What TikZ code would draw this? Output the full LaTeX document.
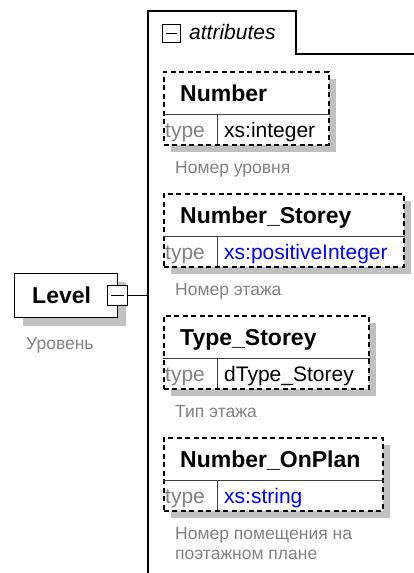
\documentclass[tikz,border=0pt]{standalone}
\usepackage{fontspec}
\setmainfont{Liberation Sans}
\definecolor{shadowgray}{RGB}{192,192,192}
\definecolor{txtgray}{RGB}{130,130,130}
\definecolor{typeblue}{RGB}{0,0,255}
\tikzset{
  solidline/.style={draw=black, line width=1.4pt},
  dashframe/.style={draw=black, line width=1.8pt, dash pattern=on 5pt off 3.5pt, fill=white, inner sep=0pt, anchor=north west},
  divline/.style={draw=black!75, line width=0.8pt},
  nametext/.style={font=\fontsize{23}{26}\selectfont\bfseries, inner sep=0pt, anchor=base west},
  typelabel/.style={font=\fontsize{21}{24}\selectfont, text=txtgray, inner sep=0pt, anchor=base west},
  typetext/.style={font=\fontsize{21}{24}\selectfont, inner sep=0pt, anchor=base west},
  commenttext/.style={font=\fontsize{17.5}{20}\selectfont, text=txtgray, inner sep=0pt, anchor=north west, align=left},
  shadowfill/.style={fill=shadowgray, draw=none},
}
% #1 id, #2 top y, #3 right x, #4 name, #5 type text, #6 type colour, #7 comment
\newcommand{\attrbox}[7]{%
  \fill[shadowfill] (171,#2+8) rectangle (#3+8,#2+81);
  \node[dashframe, minimum width=#3pt-163pt, minimum height=73pt] (#1) at (163,#2) {};
  \draw[divline] (#1.west |- 0,#2+43) coordinate (#1dl) -- (#1.east |- 0,#2+43) coordinate (#1dr);
  \draw[divline] (217,#2+43) coordinate (#1dt) -- (217,#2+73) coordinate (#1db);
  \node[nametext] (#1name) at (180,#2+30) {#4};
  \node[typelabel] (#1tl) at (165,#2+66) {type};
  \node[typetext, text=#6] (#1tv) at (224,#2+66) {#5};
  \node[commenttext] (#1c) at (175,#2+90.5) {#7};
}
\begin{document}
\begin{tikzpicture}[x=1pt, y=-1pt]
\useasboundingbox (0,0) rectangle (414,573);
% attributes group frame
\draw[solidline] (148,573) coordinate (gb) -- (148,11) coordinate (gtl) -- (296,11) coordinate (gtr) -- (296,54) coordinate (gtb) -- (414,54) coordinate (gre);
\node[draw=black, line width=1.4pt, minimum size=18pt, inner sep=0pt, anchor=north west] (gicon) at (162,24) {};
\draw[line width=1.4pt] ([xshift=4pt]gicon.west) -- ([xshift=-4pt]gicon.east);
\node[font=\fontsize{21}{24}\selectfont\itshape, inner sep=0pt, anchor=base west] (gtitle) at (189,39) {attributes};
% Level element
\fill[shadowfill] (23,282) rectangle (126,326);
\node[draw=black, line width=1.4pt, fill=white, minimum width=103pt, minimum height=44pt, inner sep=0pt, anchor=north west] (level) at (14,273) {};
\node[nametext] (leveltxt) at (32,303) {Level};
\node[draw=black, line width=1.4pt, fill=white, minimum size=20pt, inner sep=0pt, anchor=north west] (lbtn) at (107,285) {};
\draw[line width=1.4pt] ([xshift=4pt]lbtn.west) -- ([xshift=-4pt]lbtn.east);
\node[commenttext] (levelc) at (26,337.5) {Уровень};
\draw[solidline] (lbtn.east) -- (lbtn.east -| gtl);
% attributes
\attrbox{a}{71}{328}{Number}{xs:integer}{black}{Номер уровня}
\attrbox{b}{193}{403}{Number\_Storey}{xs:positiveInteger}{typeblue}{Номер этажа}
\attrbox{c}{315}{368}{Type\_Storey}{dType\_Storey}{black}{Тип этажа}
\attrbox{d}{437}{382}{Number\_OnPlan}{xs:string}{typeblue}{Номер помещения на\\поэтажном плане}
\end{tikzpicture}
\end{document}
